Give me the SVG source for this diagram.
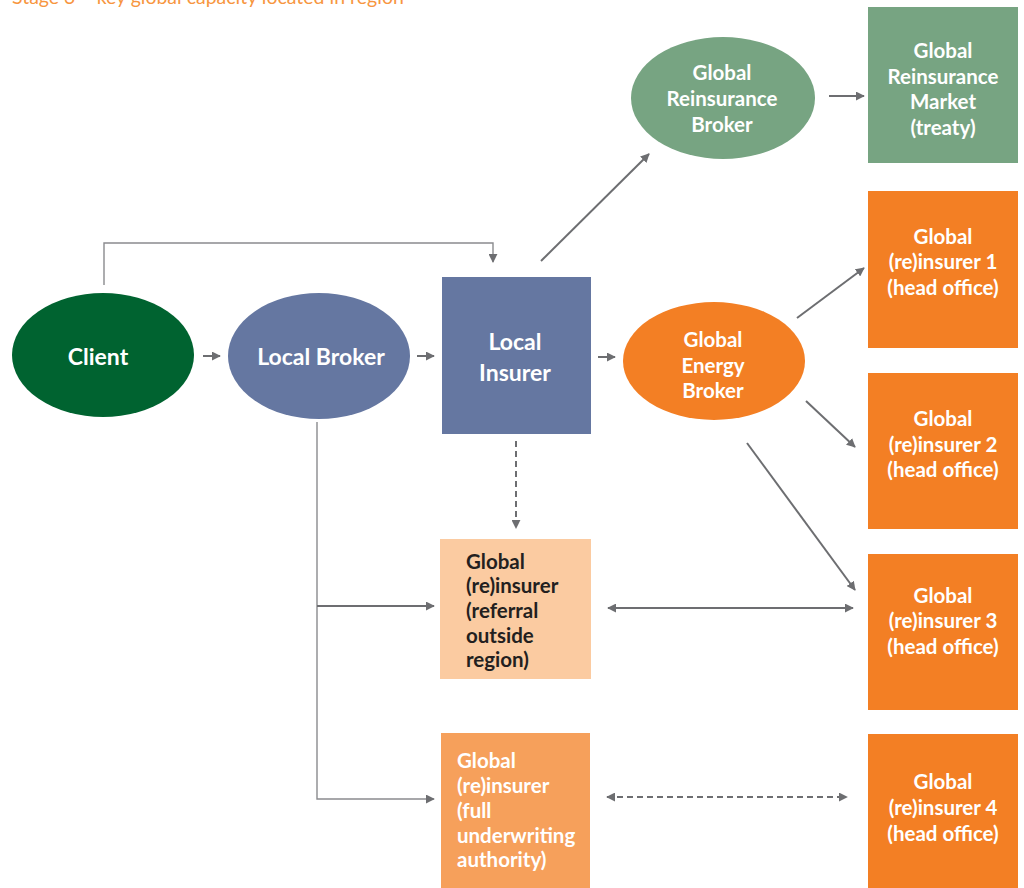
<svg xmlns="http://www.w3.org/2000/svg" width="1024" height="888" viewBox="0 0 1024 888">
  <style>
    .lbl { font-family: Lato, "Open Sans", "Liberation Sans", sans-serif; font-weight: bold; font-size: 20.5px; fill: #ffffff; text-anchor: middle; dominant-baseline: central; }
    .big { font-size: 23px; }
    .left { text-anchor: start; }
    .dark { fill: #231f20; }
    .ln { fill: none; stroke: #6d6e71; stroke-width: 2; }
    .thin { stroke: #8a8b8e; stroke-width: 1.4; }
    .dash { stroke-dasharray: 6 4; }
    .title { font-family: Lato, "Open Sans", "Liberation Sans", sans-serif; font-size: 19.5px; fill: #f7963f; }
  </style>
  <defs>
    <marker id="arr" viewBox="0 0 10 10" refX="9" refY="5" markerWidth="9" markerHeight="9" orient="auto-start-reverse" markerUnits="userSpaceOnUse">
      <path d="M0,0 L10,5 L0,10 z" fill="#6d6e71"/>
    </marker>
  </defs>
  <rect width="1024" height="888" fill="#ffffff"/>

  <text class="title" x="12" y="4">Stage 3 – key global capacity located in region</text>

  <!-- connectors -->
  <g id="connectors">
    <polyline class="ln thin" points="104,285 104,243 493,243 493,262" marker-end="url(#arr)"/>
    <line class="ln" x1="203" y1="356" x2="220" y2="356" marker-end="url(#arr)"/>
    <line class="ln" x1="417" y1="356" x2="434" y2="356" marker-end="url(#arr)"/>
    <line class="ln" x1="598" y1="357" x2="615" y2="357" marker-end="url(#arr)"/>
    <line class="ln" x1="541" y1="261" x2="649" y2="154" marker-end="url(#arr)"/>
    <line class="ln" x1="829" y1="96" x2="864" y2="96" marker-end="url(#arr)"/>
    <line class="ln" x1="797" y1="318" x2="864" y2="268" marker-end="url(#arr)"/>
    <line class="ln" x1="806" y1="401" x2="855" y2="447" marker-end="url(#arr)"/>
    <line class="ln" x1="747" y1="443" x2="855" y2="590" marker-end="url(#arr)"/>
    <line class="ln dash" x1="516" y1="441" x2="516" y2="528" marker-end="url(#arr)"/>
    <polyline class="ln thin" points="317,422 317,799 434,799" marker-end="url(#arr)"/>
    <line class="ln" x1="317" y1="606" x2="434" y2="606" marker-end="url(#arr)"/>
    <line class="ln" x1="608" y1="608" x2="853" y2="608" marker-start="url(#arr)" marker-end="url(#arr)"/>
    <line class="ln dash" stroke-dasharray="4 3" x1="607" y1="797" x2="847" y2="797" marker-start="url(#arr)" marker-end="url(#arr)"/>
  </g>

  <g id="client">
    <ellipse cx="103" cy="355" rx="91" ry="62" fill="#006330"/>
    <text class="lbl big" x="98" y="356">Client</text>
  </g>

  <g id="local-broker">
    <ellipse cx="319" cy="356" rx="91" ry="63" fill="#6577a1"/>
    <text class="lbl big" x="321" y="356">Local Broker</text>
  </g>

  <g id="local-insurer">
    <rect x="442" y="277" width="149" height="157" fill="#6577a1"/>
    <text class="lbl big" x="515" y="341">Local</text>
    <text class="lbl big" x="515" y="372">Insurer</text>
  </g>

  <g id="global-reinsurance-broker">
    <ellipse cx="723" cy="98" rx="92" ry="61" fill="#77a482"/>
    <text class="lbl" x="722" y="72">Global</text>
    <text class="lbl" x="722" y="98">Reinsurance</text>
    <text class="lbl" x="722" y="124">Broker</text>
  </g>

  <g id="global-reinsurance-market">
    <rect x="868" y="7" width="150" height="156" fill="#77a482"/>
    <text class="lbl" x="943" y="50">Global</text>
    <text class="lbl" x="943" y="76">Reinsurance</text>
    <text class="lbl" x="943" y="101">Market</text>
    <text class="lbl" x="943" y="127">(treaty)</text>
  </g>

  <g id="global-energy-broker">
    <ellipse cx="714" cy="361" rx="91" ry="59" fill="#f37f24"/>
    <text class="lbl" x="713" y="339">Global</text>
    <text class="lbl" x="713" y="365">Energy</text>
    <text class="lbl" x="713" y="390">Broker</text>
  </g>

  <g id="reinsurer-1">
    <rect x="868" y="191" width="150" height="157" fill="#f37f24"/>
    <text class="lbl" x="943" y="236">Global</text>
    <text class="lbl" x="943" y="261">(re)insurer 1</text>
    <text class="lbl" x="943" y="287">(head office)</text>
  </g>

  <g id="reinsurer-2">
    <rect x="868" y="373" width="150" height="156" fill="#f37f24"/>
    <text class="lbl" x="943" y="418">Global</text>
    <text class="lbl" x="943" y="444">(re)insurer 2</text>
    <text class="lbl" x="943" y="469">(head office)</text>
  </g>

  <g id="reinsurer-3">
    <rect x="868" y="554" width="150" height="156" fill="#f37f24"/>
    <text class="lbl" x="943" y="595">Global</text>
    <text class="lbl" x="943" y="620">(re)insurer 3</text>
    <text class="lbl" x="943" y="646">(head office)</text>
  </g>

  <g id="reinsurer-4">
    <rect x="868" y="734" width="150" height="154" fill="#f37f24"/>
    <text class="lbl" x="943" y="781">Global</text>
    <text class="lbl" x="943" y="807">(re)insurer 4</text>
    <text class="lbl" x="943" y="833">(head office)</text>
  </g>

  <g id="referral-insurer">
    <rect x="440" y="539" width="151" height="140" fill="#fbcba1"/>
    <text class="lbl left dark" x="466" y="561">Global</text>
    <text class="lbl left dark" x="466" y="585">(re)insurer</text>
    <text class="lbl left dark" x="466" y="610">(referral</text>
    <text class="lbl left dark" x="466" y="635">outside</text>
    <text class="lbl left dark" x="466" y="659">region)</text>
  </g>

  <g id="full-authority-insurer">
    <rect x="441" y="733" width="149" height="155" fill="#f6a05b"/>
    <text class="lbl left" x="457" y="760">Global</text>
    <text class="lbl left" x="457" y="785">(re)insurer</text>
    <text class="lbl left" x="457" y="810">(full</text>
    <text class="lbl left" x="457" y="835">underwriting</text>
    <text class="lbl left" x="457" y="859">authority)</text>
  </g>
</svg>
